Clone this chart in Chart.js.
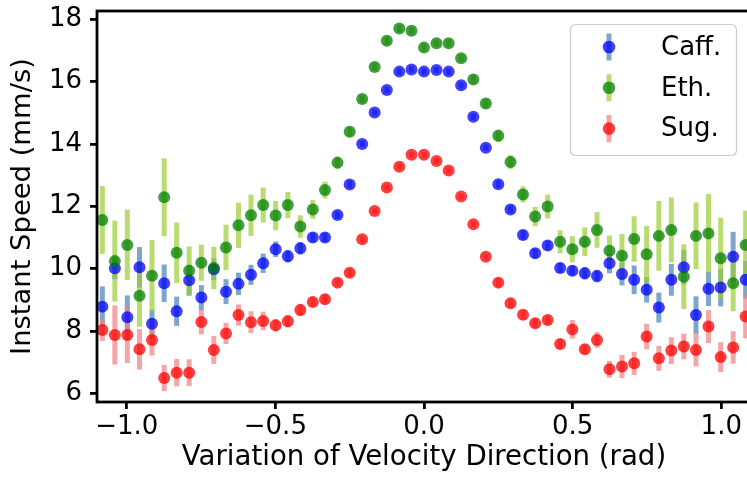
<!DOCTYPE html>
<html>
<head>
<meta charset="utf-8">
<script src="https://cdn.jsdelivr.net/npm/chart.js@4.4.1/dist/chart.umd.min.js"></script>
<style>
  html, body { margin: 0; padding: 0; background: #fff; overflow: hidden; }
  #wrap { width: 747px; height: 483px; overflow: hidden; }
</style>
</head>
<body>
<div id="wrap"><canvas id="chart" width="760" height="483"></canvas></div>
<script>
// bin centres (rad)
const angles = [
  -1.082, -1.040, -0.998, -0.957, -0.915, -0.874, -0.832, -0.790, -0.749, -0.707,
  -0.666, -0.624, -0.582, -0.541, -0.499, -0.458, -0.416, -0.374, -0.333, -0.291,
  -0.250, -0.208, -0.166, -0.125, -0.083, -0.042, 0.000, 0.042, 0.083, 0.125,
  0.166, 0.208, 0.250, 0.291, 0.333, 0.374, 0.416, 0.458, 0.499, 0.541,
  0.582, 0.624, 0.666, 0.707, 0.749, 0.790, 0.832, 0.874, 0.915, 0.957,
  0.998, 1.040, 1.082
];

const caff = [
  8.78, 10.01, 8.44, 10.04, 8.23, 9.53, 8.63, 9.63, 9.07, 9.98,
  9.26, 9.51, 9.80, 10.17, 10.62, 10.40, 10.65, 11.00, 11.00, 11.72,
  12.70, 14.00, 15.01, 15.73, 16.32, 16.39, 16.32, 16.37, 16.32, 15.88,
  14.87, 13.88, 12.71, 11.90, 11.08, 10.49, 10.74, 10.02, 9.93, 9.85,
  9.76, 10.17, 9.83, 9.64, 9.32, 8.75, 9.64, 10.04, 8.51, 9.35,
  9.39, 10.38, 9.64
];
const caffErr = [
  0.65, 0.35, 0.70, 0.65, 0.45, 0.60, 0.47, 0.50, 0.40, 0.35,
  0.40, 0.36, 0.32, 0.31, 0.25, 0.20, 0.20, 0.15, 0.15, 0.12,
  0.12, 0.10, 0.10, 0.10, 0.10, 0.10, 0.10, 0.10, 0.10, 0.10,
  0.10, 0.10, 0.12, 0.12, 0.15, 0.15, 0.15, 0.15, 0.15, 0.20,
  0.20, 0.32, 0.37, 0.46, 0.41, 0.48, 0.51, 0.55, 0.60, 0.55,
  0.60, 0.80, 0.60
];

const eth = [
  11.56, 10.24, 10.76, 9.13, 9.77, 12.29, 10.51, 9.93, 10.19, 10.02,
  10.68, 11.39, 11.71, 12.04, 11.70, 12.04, 11.35, 11.90, 12.52, 13.40,
  14.39, 15.44, 16.47, 17.31, 17.70, 17.63, 17.09, 17.23, 17.23, 16.75,
  16.07, 15.30, 14.26, 13.42, 12.38, 11.67, 11.99, 10.86, 10.62, 10.86,
  11.24, 10.57, 10.41, 10.95, 10.46, 11.05, 11.24, 9.74, 11.05, 11.13,
  10.33, 9.53, 10.76
];
const ethErr = [
  1.09, 1.30, 1.13, 1.00, 1.15, 1.25, 0.97, 0.78, 0.58, 0.68,
  0.73, 0.73, 0.66, 0.56, 0.47, 0.42, 0.36, 0.30, 0.27, 0.20,
  0.15, 0.12, 0.12, 0.12, 0.12, 0.12, 0.12, 0.12, 0.12, 0.12,
  0.15, 0.15, 0.20, 0.22, 0.26, 0.31, 0.38, 0.37, 0.42, 0.46,
  0.57, 0.49, 0.70, 0.73, 0.91, 1.12, 1.04, 1.04, 1.07, 1.26,
  1.30, 0.90, 1.10
];

const sug = [
  8.03, 7.87, 7.87, 7.41, 7.71, 6.49, 6.66, 6.66, 8.29, 7.39,
  7.92, 8.51, 8.28, 8.32, 8.18, 8.31, 8.67, 8.93, 9.02, 9.55,
  9.87, 10.94, 11.85, 12.60, 13.27, 13.65, 13.65, 13.45, 13.15, 12.31,
  11.42, 10.38, 9.55, 8.89, 8.52, 8.25, 8.35, 7.58, 8.05, 7.41,
  7.71, 6.77, 6.86, 6.96, 7.82, 7.12, 7.37, 7.50, 7.39, 8.14,
  7.16, 7.47, 8.46
];
const sugErr = [
  0.35, 0.95, 0.90, 0.65, 0.50, 0.42, 0.44, 0.43, 0.40, 0.45,
  0.34, 0.34, 0.35, 0.30, 0.20, 0.20, 0.20, 0.15, 0.15, 0.12,
  0.12, 0.10, 0.10, 0.10, 0.10, 0.10, 0.10, 0.10, 0.10, 0.10,
  0.10, 0.10, 0.15, 0.15, 0.15, 0.15, 0.15, 0.15, 0.30, 0.15,
  0.25, 0.27, 0.37, 0.37, 0.41, 0.40, 0.43, 0.41, 0.53, 0.53,
  0.48, 0.52, 0.70
];

const labels = ['Caff.', 'Eth.', 'Sug.'];
const xTicks = [-1.0, -0.5, 0.0, 0.5, 1.0];
const yTicks = [6, 8, 10, 12, 14, 16, 18];

const FONT = 'DejaVu Sans';

function pts(vals) {
    return angles.map((a, i) => ({ x: a, y: vals[i] }));
}

// error bars: all bars first, markers on top (like matplotlib)
const errorBars = {
    id: 'errorBars',
    beforeDatasetsDraw(chart) {
        const { ctx, scales: { x, y } } = chart;
        ctx.save();
        ctx.lineWidth = 5;
        ctx.lineCap = 'butt';
        chart.data.datasets.forEach(ds => {
            ctx.strokeStyle = ds.barColor;
            ds.data.forEach((p, i) => {
                const e = ds.errors[i];
                const px = x.getPixelForValue(p.x);
                ctx.beginPath();
                ctx.moveTo(px, y.getPixelForValue(p.y - e));
                ctx.lineTo(px, y.getPixelForValue(p.y + e));
                ctx.stroke();
            });
        });
        ctx.restore();
    }
};

// spines around the axes box
const spines = {
    id: 'spines',
    afterDatasetsDraw(chart) {
        const { ctx, chartArea: a } = chart;
        ctx.save();
        ctx.strokeStyle = '#000';
        ctx.lineWidth = 2.8;
        ctx.strokeRect(a.left, a.top, a.right - a.left, a.bottom - a.top);
        ctx.restore();
    }
};

// matplotlib-like legend box, upper right
const legendBox = {
    id: 'legendBox',
    afterDraw(chart) {
        const ctx = chart.ctx;
        ctx.save();
        ctx.beginPath();
        ctx.roundRect(570.5, 24.5, 166, 131, 5);
        ctx.fillStyle = 'rgba(255,255,255,0.8)';
        ctx.fill();
        ctx.strokeStyle = '#cccccc';
        ctx.lineWidth = 1.2;
        ctx.stroke();
        chart.data.datasets.forEach((ds, i) => {
            const cy = 47 + i * 40.8;
            const cx = 609;
            ctx.strokeStyle = ds.barColor;
            ctx.lineWidth = 5;
            ctx.beginPath();
            ctx.moveTo(cx, cy - 13.5);
            ctx.lineTo(cx, cy + 13.5);
            ctx.stroke();
            ctx.fillStyle = ds.backgroundColor;
            ctx.beginPath();
            ctx.arc(cx, cy, 6.3, 0, Math.PI * 2);
            ctx.fill();
            ctx.fillStyle = '#000';
            ctx.font = '26px "' + FONT + '"';
            ctx.textBaseline = 'middle';
            ctx.textAlign = 'left';
            ctx.fillText(ds.label, 661, cy + 1);
        });
        ctx.restore();
    }
};

const fmt = v => (v < 0 ? '\u2212' : '') + Math.abs(v).toFixed(1);

new Chart(document.getElementById('chart'), {
    type: 'scatter',
    data: {
        datasets: [
            { label: labels[0], data: pts(caff), errors: caffErr,
              backgroundColor: 'rgba(0,0,255,0.75)', barColor: 'rgba(70,130,180,0.7)' },
            { label: labels[1], data: pts(eth), errors: ethErr,
              backgroundColor: 'rgba(0,128,0,0.75)', barColor: 'rgba(154,205,50,0.7)' },
            { label: labels[2], data: pts(sug), errors: sugErr,
              backgroundColor: 'rgba(255,0,0,0.75)', barColor: 'rgba(240,128,128,0.7)' }
        ].map((d, i) => Object.assign(d, {
            pointRadius: 6, pointBorderWidth: 0, borderWidth: 0,
            pointHoverRadius: 6, order: 2 - i, clip: false
        }))
    },
    options: {
        responsive: false,
        animation: false,
        devicePixelRatio: 1,
        layout: { padding: { top: 11, right: 9, left: 0, bottom: 0 } },
        plugins: {
            legend: { display: false },
            tooltip: { enabled: false }
        },
        scales: {
            x: {
                type: 'linear',
                min: -1.1, max: 1.1,
                afterBuildTicks: s => { s.ticks = xTicks.map(v => ({ value: v })); },
                afterFit: s => { s.height = 81; s.paddingLeft = 0; s.paddingRight = 0; },
                border: { display: false },
                grid: { drawOnChartArea: false, drawTicks: true, tickLength: 7, color: '#000', lineWidth: 2.8 },
                ticks: { color: '#000', font: { family: FONT, size: 26 }, padding: 3, maxRotation: 0,
                         callback: v => fmt(v) },
                title: { display: true, text: 'Variation of Velocity Direction (rad)', color: '#000',
                         font: { family: FONT, size: 27.6 }, padding: { top: 0, bottom: 9 } }
            },
            y: {
                type: 'linear',
                min: 5.72, max: 18.265,
                afterBuildTicks: s => { s.ticks = yTicks.map(v => ({ value: v })); },
                afterFit: s => { s.width = 97; s.paddingTop = 0; s.paddingBottom = 0; },
                border: { display: false },
                grid: { drawOnChartArea: false, drawTicks: true, tickLength: 7, color: '#000', lineWidth: 2.8 },
                ticks: { color: '#000', font: { family: FONT, size: 26 }, padding: 8,
                         callback: v => String(v) },
                title: { display: true, text: 'Instant Speed (mm/s)', color: '#000',
                         font: { family: FONT, size: 27.4 }, padding: { top: 6, bottom: 0 } }
            }
        }
    },
    plugins: [errorBars, spines, legendBox]
});
</script>
</body>
</html>
